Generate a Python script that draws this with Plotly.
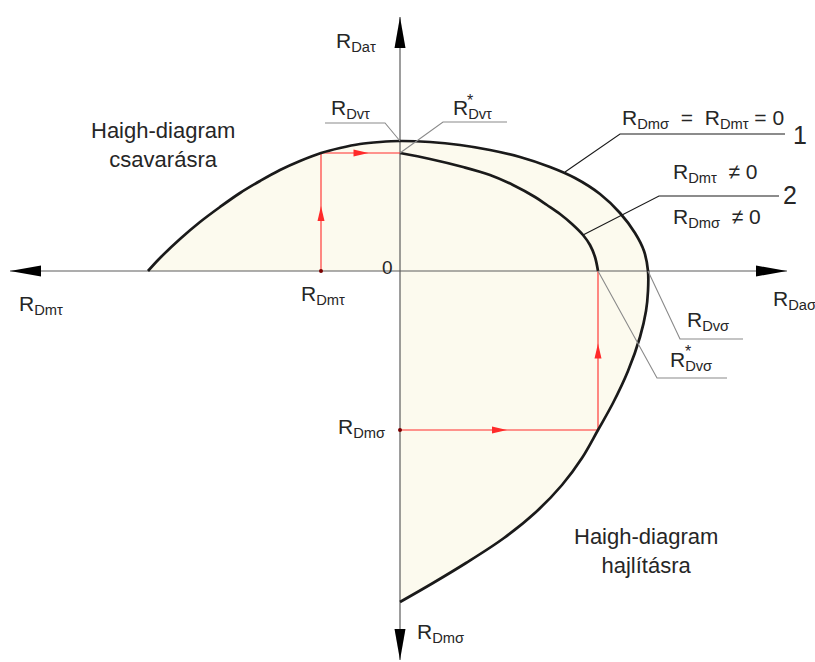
import plotly.graph_objects as go

# ---- characteristic values (origin at the crossing of the axes) ----
R_m_tau = -252          # end of the torsion curve on the R_Dm,tau axis
R_Dv_tau = 130          # fatigue limit, pure torsion
R_Dv_tau_star = 118     # reduced torsion limit
R_Dm_tau = -79          # mean torsion stress
R_Dv_sig = 248          # fatigue limit, pure bending
R_Dv_sig_star = 198     # reduced bending limit
R_Dm_sig = -159         # mean bending stress (drawn downwards)
R_m_sig = -331          # end of the bending curve

# ---- curve 1: torsion Haigh diagram (left) ----
tors_x = [-252, -240, -220, -200, -180, -160, -140, -120, -100, -79, -60, -40, -20, 0]
tors_y = [0, 13, 32, 49, 64, 78, 90, 101, 110, 118, 123, 127, 129, 130]

# ---- curve 1: upper right quadrant ----
top_x = [0, 30, 60, 90, 120, 150, 175, 200, 220, 235, 244, 248]
top_y = [130, 129, 126, 121, 114, 104, 93, 77, 58, 38, 20, 0]

# ---- curve 1: bending Haigh diagram (lower right) ----
bend_x = [248, 248, 246, 240, 228, 213, 198, 182, 162, 136, 104, 66, 33, 0]
bend_y = [0, -20, -40, -66, -100, -132, -159, -187, -214, -241, -267, -292, -312, -331]

# ---- curve 2: combined loading ----
c2_x = [0, 30, 63, 90, 113, 135, 147, 160, 172, 183, 190, 195, 198]
c2_y = [118, 112, 104, 96, 86, 74, 66, 57, 47, 36, 26, 14, 0]

FILL = "#FCFAEE"
INK = "#1a1a1a"
AXIS = "#5c5c5c"
LEAD = "#8a8a8a"
RED = "#ff2a2a"
FONT = "Liberation Sans, Arial, sans-serif"

fig = go.Figure()

# filled region under curve 1
fig.add_trace(go.Scatter(x=tors_x + top_x[1:], y=tors_y + top_y[1:], mode="lines",
                         line=dict(width=0, shape="spline", color=FILL),
                         fill="tozeroy", fillcolor=FILL, hoverinfo="skip"))
fig.add_trace(go.Scatter(x=bend_x, y=bend_y, mode="lines",
                         line=dict(width=0, shape="spline", color=FILL),
                         fill="tozerox", fillcolor=FILL, hoverinfo="skip"))

# coordinate axes
AX_L, AX_R, AX_T, AX_B = -390, 387, 254, -389
fig.add_trace(go.Scatter(x=[AX_L, AX_R], y=[0, 0], mode="lines",
                         line=dict(color=AXIS, width=1.2), hoverinfo="skip"))
fig.add_trace(go.Scatter(x=[0, 0], y=[AX_B, AX_T], mode="lines",
                         line=dict(color=AXIS, width=1.2), hoverinfo="skip"))

# red construction lines
fig.add_trace(go.Scatter(x=[R_Dm_tau, R_Dm_tau, 0], y=[0, R_Dv_tau_star, R_Dv_tau_star],
                         mode="lines", line=dict(color=RED, width=1.1), hoverinfo="skip"))
fig.add_trace(go.Scatter(x=[0, R_Dv_sig_star, R_Dv_sig_star], y=[R_Dm_sig, R_Dm_sig, 0],
                         mode="lines", line=dict(color=RED, width=1.1), hoverinfo="skip"))
fig.add_trace(go.Scatter(x=[R_Dm_tau, 0], y=[0, R_Dm_sig], mode="markers",
                         marker=dict(color="#7a0000", size=4), hoverinfo="skip"))

# curves
fig.add_trace(go.Scatter(x=tors_x + top_x[1:] + bend_x[1:], y=tors_y + top_y[1:] + bend_y[1:],
                         mode="lines", line=dict(color=INK, width=2.7, shape="spline"),
                         hoverinfo="skip"))
fig.add_trace(go.Scatter(x=c2_x, y=c2_y, mode="lines",
                         line=dict(color=INK, width=2.7, shape="spline"), hoverinfo="skip"))


def tri(tx, ty, dx, dy, length, half):
    """Filled triangle with tip (tx, ty) pointing along (dx, dy)."""
    bx, by = tx - dx * length, ty - dy * length
    px, py = -dy * half, dx * half
    return f"M{tx},{ty} L{bx + px},{by + py} L{bx - px},{by - py} Z"


shapes = []
# axis arrowheads
for tx, ty, dx, dy in [(AX_L, 0, -1, 0), (AX_R, 0, 1, 0), (0, AX_T, 0, 1), (0, AX_B, 0, -1)]:
    shapes.append(dict(type="path", path=tri(tx, ty, dx, dy, 31, 5.5),
                       fillcolor="black", line=dict(width=0), layer="above"))
# red arrowheads at the middle of each construction segment
for tx, ty, dx, dy in [(R_Dm_tau, R_Dv_tau_star / 2 + 6, 0, 1),
                       (R_Dm_tau / 2 + 8, R_Dv_tau_star, 1, 0),
                       (R_Dv_sig_star, R_Dm_sig / 2 + 7, 0, 1),
                       (R_Dv_sig_star / 2 + 8, R_Dm_sig, 1, 0)]:
    shapes.append(dict(type="path", path=tri(tx, ty, dx, dy, 15, 3.5),
                       fillcolor=RED, line=dict(width=0), layer="above"))


def leader(points, color, width=1.1):
    path = "M" + " L".join(f"{x},{y}" for x, y in points)
    shapes.append(dict(type="path", path=path, line=dict(color=color, width=width), layer="above"))


leader([(-75, 148), (-15, 148), (0, R_Dv_tau)], LEAD)
leader([(107, 149), (43, 149), (0, R_Dv_tau_star)], LEAD)
leader([(385, 137), (220, 137), (165, 99)], INK)
leader([(379, 75), (259, 75), (c2_x[9], c2_y[9])], INK)
leader([(R_Dv_sig, 0), (280, -68), (343, -68)], LEAD)
leader([(R_Dv_sig_star, 0), (257, -107), (327, -107)], LEAD)

fig.update_layout(shapes=shapes)

TXT = "#262626"


def label(x, y, text, size=21, xanchor="left", yanchor="middle", align="left"):
    fig.add_annotation(x=x, y=y, text=text, showarrow=False, xanchor=xanchor, yanchor=yanchor,
                       align=align, font=dict(family=FONT, size=size, color=TXT))


label(-66, 229, "R<sub>Daτ</sub>")
label(-71, 162, "R<sub>Dvτ</sub>")
label(51, 162, "R<sub>Dvτ</sub>")
label(65, 171, "*", size=16)
label(-237, 126, "Haigh-diagram<br>csavarásra", size=22, xanchor="center", align="center")
label(-13, 4, "0", size=19, xanchor="center")
label(-383, -34, "R<sub>Dmτ</sub>")
label(-101, -24, "R<sub>Dmτ</sub>")
label(371, -29, "R<sub>Daσ</sub>")
label(285, -50, "R<sub>Dvσ</sub>")
label(268, -90, "R<sub>Dvσ</sub>")
label(283, -80, "*", size=16)
label(-64, -157, "R<sub>Dmσ</sub>")
label(15, -362, "R<sub>Dmσ</sub>")
label(220, 152, "R<sub>Dmσ</sub>  =  R<sub>Dmτ</sub> = 0")
label(271, 98, "R<sub>Dmτ</sub>  ≠ 0")
label(271, 53, "R<sub>Dmσ</sub>  ≠ 0")
label(400, 136, "1", size=25, xanchor="center")
label(390, 76, "2", size=25, xanchor="center")
label(246, -280, "Haigh-diagram<br>hajlításra", size=22, xanchor="center", align="center")

fig.update_layout(
    width=815, height=662,
    margin=dict(l=0, r=0, t=0, b=0),
    paper_bgcolor="white", plot_bgcolor="white",
    showlegend=False,
    xaxis=dict(visible=False, range=[-400, 415], fixedrange=True),
    yaxis=dict(visible=False, range=[-391, 271], fixedrange=True),
)

fig.write_html("out.html")
